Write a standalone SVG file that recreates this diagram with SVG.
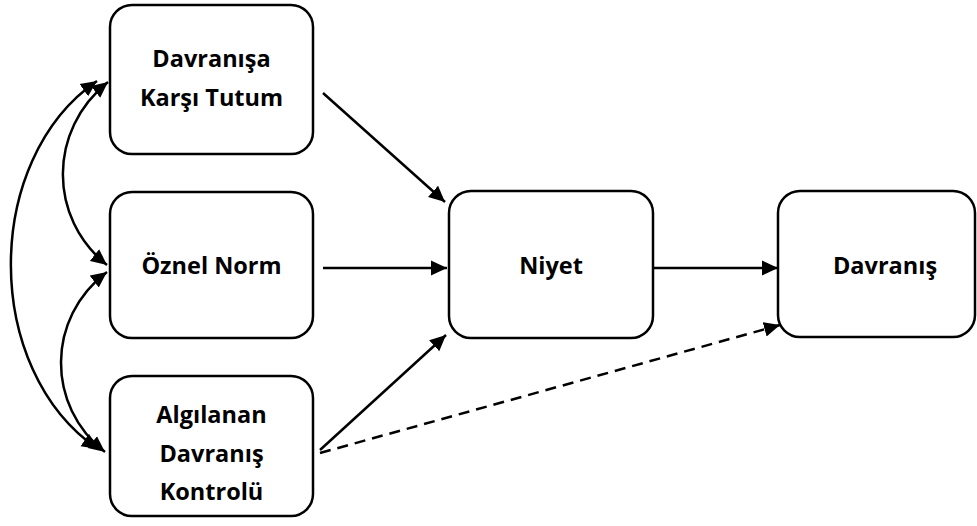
<svg xmlns="http://www.w3.org/2000/svg" width="977" height="526" viewBox="0 0 977 526">
  <style>
    .box { fill: #fff; stroke: #000; stroke-width: 2.5; }
    .lbl { font-family: "Open Sans", "Liberation Sans", sans-serif; font-weight: 700; font-size: 23.5px; fill: #000; text-anchor: middle; }
    .edge { fill: none; stroke: #000; stroke-width: 2.5; }
    .dash { stroke-dasharray: 11 7; }
  </style>
  <defs>
    <marker id="head" markerUnits="userSpaceOnUse" markerWidth="18" markerHeight="16" refX="16" refY="8" orient="auto-start-reverse">
      <path d="M0,0.5 L16,8 L0,15.5 Z" fill="#000"/>
    </marker>
  </defs>

  <g id="tutum">
    <rect class="box" x="110" y="5" width="203" height="149" rx="22"/>
    <text class="lbl" x="211.5" y="67">Davranışa</text>
    <text class="lbl" x="211.5" y="106">Karşı Tutum</text>
  </g>
  <g id="norm">
    <rect class="box" x="110" y="192" width="203" height="146" rx="22"/>
    <text class="lbl" x="211.5" y="274">Öznel Norm</text>
  </g>
  <g id="kontrol">
    <rect class="box" x="110" y="376" width="203" height="140" rx="22"/>
    <text class="lbl" x="211.5" y="423">Algılanan</text>
    <text class="lbl" x="211.5" y="462">Davranış</text>
    <text class="lbl" x="211.5" y="500">Kontrolü</text>
  </g>
  <g id="niyet">
    <rect class="box" x="449" y="191" width="204" height="147" rx="22"/>
    <text class="lbl" x="551" y="274">Niyet</text>
  </g>
  <g id="davranis">
    <rect class="box" x="778" y="191" width="197" height="146" rx="22"/>
    <text class="lbl" x="885" y="274">Davranış</text>
  </g>

  <g id="connectors">
    <line class="edge" x1="323" y1="93" x2="445" y2="202" marker-end="url(#head)"/>
    <line class="edge" x1="323" y1="268" x2="447" y2="268" marker-end="url(#head)"/>
    <line class="edge" x1="320" y1="450" x2="446" y2="335" marker-end="url(#head)"/>
    <line class="edge" x1="653" y1="268" x2="778" y2="268" marker-end="url(#head)"/>
    <line class="edge dash" x1="320" y1="453" x2="780" y2="325" marker-end="url(#head)"/>
    <!-- correlations between the three predictors -->
    <path class="edge" d="M108,82 C48,130 48,218 107,265" marker-start="url(#head)" marker-end="url(#head)"/>
    <path class="edge" d="M107,272 C46,318 46,406 105,452" marker-start="url(#head)" marker-end="url(#head)"/>
    <path class="edge" d="M97,81 C-18,160 -18,370 98,449" marker-start="url(#head)" marker-end="url(#head)"/>
  </g>
</svg>
